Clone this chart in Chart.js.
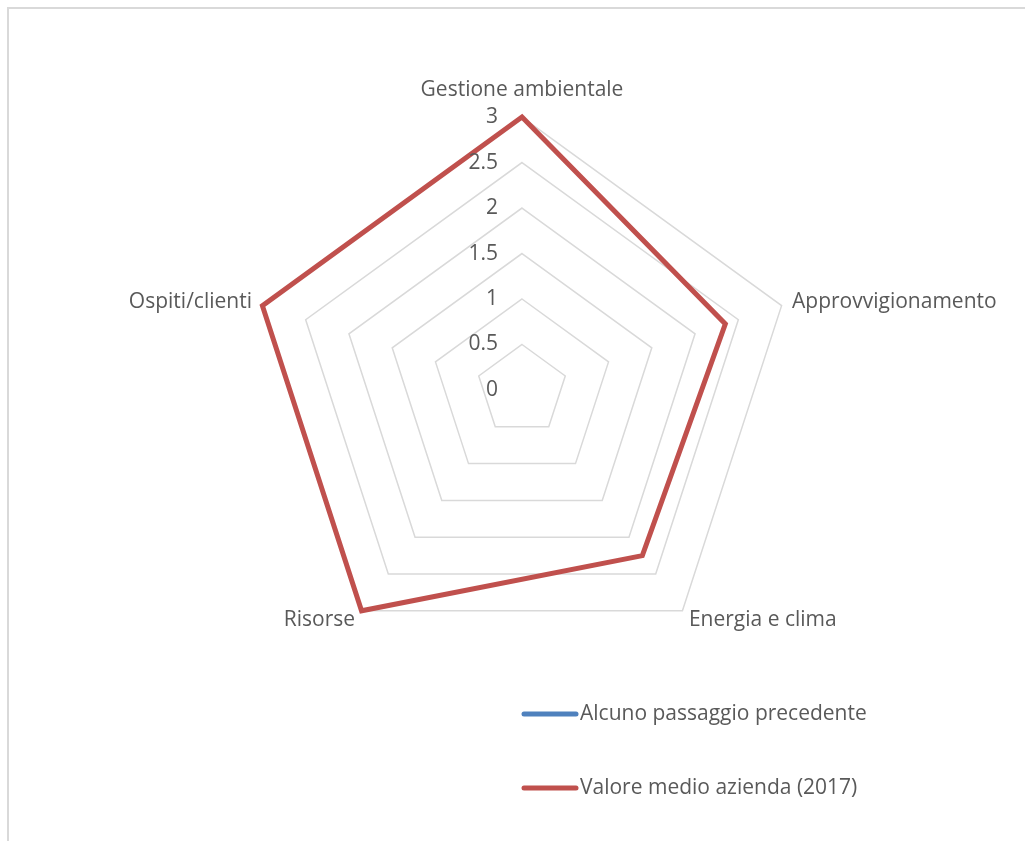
<!DOCTYPE html>
<html><head><meta charset="utf-8">
<script src="https://cdn.jsdelivr.net/npm/chart.js@4/dist/chart.umd.min.js"></script>
<style>
html,body{margin:0;padding:0;background:#fff;overflow:hidden;}
#wrap{position:relative;width:1025px;height:841px;overflow:hidden;}
#frame{position:absolute;left:7px;top:7px;width:2000px;height:2000px;border-left:2px solid #d9d9d9;border-top:2px solid #d9d9d9;box-sizing:border-box;}
canvas{position:absolute;left:0;top:0;}
</style></head>
<body><div id="wrap"><div id="frame"></div><canvas id="c" width="1025" height="841"></canvas></div>
<script>
const categories = ['Gestione ambientale', 'Approvvigionamento', 'Energia e clima', 'Risorse', 'Ospiti/clienti'];
const seriesNames = ['Alcuno passaggio precedente', 'Valore medio azienda (2017)'];
const previousValues = [];
const companyValues = [3, 2.35, 2.25, 3, 3];
const tickLabels = ['0', '0.5', '1', '1.5', '2', '2.5', '3'];
const seriesColors = ['#4f81bd', '#c0504d'];

const textColor = '#595959';
const fontFamily = '"Open Sans", Lato, sans-serif';

const tickLabelPlugin = {
  id: 'tickLabelsLeft',
  afterDatasetsDraw(chart) {
    const s = chart.scales.r;
    const ctx = chart.ctx;
    ctx.save();
    ctx.font = '21px ' + fontFamily;
    ctx.fillStyle = textColor;
    ctx.textAlign = 'right';
    ctx.textBaseline = 'middle';
    s.ticks.forEach((t, i) => {
      const y = s.yCenter - s.getDistanceFromCenterForValue(t.value);
      ctx.fillText(tickLabels[i], s.xCenter - 24, y);
    });
    ctx.restore();
  }
};

const stackedLegendPlugin = {
  id: 'stackedLegend',
  afterDraw(chart) {
    const ctx = chart.ctx;
    ctx.save();
    ctx.font = '21px ' + fontFamily;
    ctx.textBaseline = 'middle';
    ctx.textAlign = 'left';
    chart.data.datasets.forEach((ds, i) => {
      const y = 714 + i * 74;
      ctx.strokeStyle = ds.borderColor;
      ctx.lineWidth = 5;
      ctx.lineCap = 'round';
      ctx.beginPath();
      ctx.moveTo(524, y);
      ctx.lineTo(576, y);
      ctx.stroke();
      ctx.fillStyle = textColor;
      ctx.fillText(ds.label, 580, y);
    });
    ctx.restore();
  }
};

new Chart(document.getElementById('c'), {
  type: 'radar',
  data: {
    labels: categories,
    datasets: [
      { label: seriesNames[0], data: previousValues, borderColor: seriesColors[0], backgroundColor: seriesColors[0], borderWidth: 5, pointRadius: 0, fill: false },
      { label: seriesNames[1], data: companyValues, borderColor: seriesColors[1], backgroundColor: seriesColors[1], borderWidth: 5, pointRadius: 0, fill: false, borderJoinStyle: 'miter', tension: 0 }
    ]
  },
  options: {
    responsive: false,
    devicePixelRatio: 1,
    animation: false,
    layout: { padding: { left: 20, right: 0, top: 75, bottom: 164 } },
    plugins: { legend: { display: false }, tooltip: { enabled: false } },
    scales: {
      r: {
        min: 0, max: 3,
        ticks: { display: false, stepSize: 0.5 },
        grid: { color: '#d9d9d9', lineWidth: 1.5 },
        angleLines: { display: false },
        pointLabels: {
          color: textColor,
          font: { family: fontFamily, size: 21, lineHeight: 0.05 },
          padding: (ctx) => ctx.index === 0 ? 27 : 11
        }
      }
    }
  },
  plugins: [tickLabelPlugin, stackedLegendPlugin]
});
</script>
</body></html>
